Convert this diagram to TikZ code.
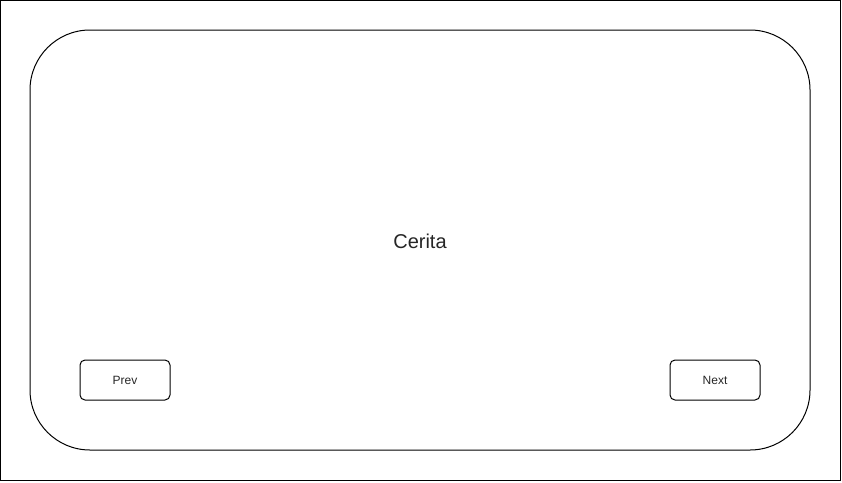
\documentclass[tikz,border=0pt]{standalone}
\usepackage{fontspec}
\setmainfont{Liberation Sans}
\usetikzlibrary{positioning}
\tikzset{
  screenbox/.style={draw,line width=1pt,rounded corners=60pt,minimum width=780pt,minimum height=420pt,inner sep=0pt},
  navbtn/.style={draw,line width=1pt,rounded corners=5pt,minimum width=90pt,minimum height=40pt,inner sep=0pt,font=\fontsize{12pt}{14pt}\selectfont,text=black!85}
}
\begin{document}
\begin{tikzpicture}[x=1pt,y=-1pt]
  \useasboundingbox (0,0) rectangle (842,482);
  \draw[line width=1pt] (0.5,0.5) rectangle (840.5,480.5);
  \node[screenbox] (screen) at (420,240) {};
  \node[font=\fontsize{20pt}{24pt}\selectfont,text=black!85] (title) at (420,241) {Cerita};
  \node[navbtn] (prev) at (125,380) {Prev};
  \node[navbtn] (next) at (715,380) {Next};
\end{tikzpicture}
\end{document}
